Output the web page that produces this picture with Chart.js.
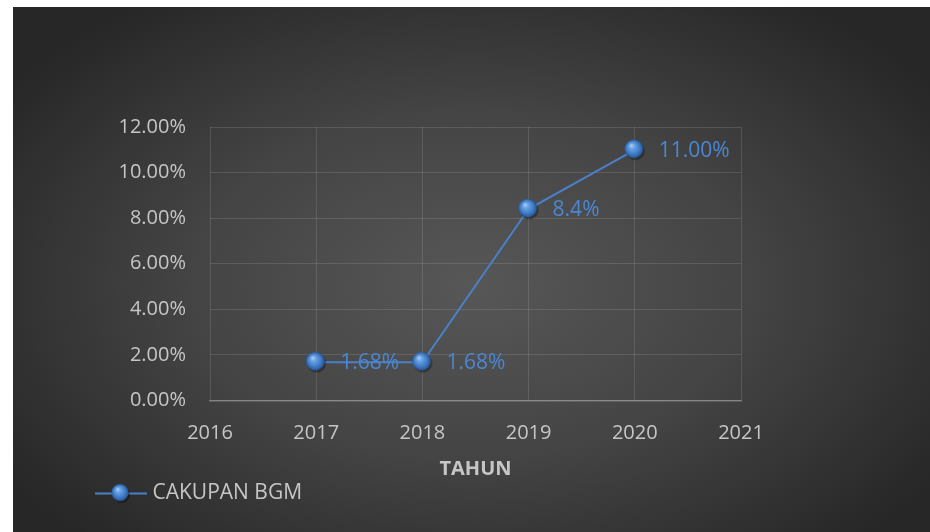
<!DOCTYPE html>
<html>
<head>
<meta charset="utf-8">
<script src="https://cdn.jsdelivr.net/npm/chart.js@4/dist/chart.umd.min.js"></script>
<style>
  html, body { margin: 0; padding: 0; background: #ffffff; }
  canvas { display: block; }
</style>
</head>
<body>
<canvas id="bgmChart" width="930" height="532"></canvas>
<script>
// --- data ---
const tahun = [2017, 2018, 2019, 2020];
const cakupanBgm = [1.68, 1.68, 8.4, 11.0];
const labelNilai = ["1.68%", "1.68%", "8.4%", "11.00%"];
const xMin = 2016;
const xMax = 2021;
const yMax = 12;
const seriesName = "CAKUPAN BGM";
const xTitle = "TAHUN";

const FONT = "'Open Sans', 'Noto Sans', sans-serif";
const textGray = "#c6c6c6";
const blueLine = "#4a80c8";
const blueLabel = "#4b87d2";

// bola biru untuk marker
function drawSphere(ctx, cx, cy, r) {
  ctx.save();
  ctx.beginPath();
  ctx.arc(cx + 1.5, cy + 2, r, 0, Math.PI * 2);
  ctx.fillStyle = "rgba(0,0,0,0.35)";
  ctx.fill();
  const g = ctx.createRadialGradient(cx - r * 0.3, cy - r * 0.4, 0, cx, cy, r);
  g.addColorStop(0, "#b4d4f7");
  g.addColorStop(0.3, "#69a3e4");
  g.addColorStop(0.75, "#3b76c2");
  g.addColorStop(1, "#27548f");
  ctx.beginPath();
  ctx.arc(cx, cy, r, 0, Math.PI * 2);
  ctx.fillStyle = g;
  ctx.fill();
  ctx.restore();
}

const marker = document.createElement("canvas");
marker.width = 26;
marker.height = 26;
drawSphere(marker.getContext("2d"), 12, 12, 9.3);

// marker legenda: garis + bola (dengan ruang kosong di kiri)
const legendMarker = document.createElement("canvas");
legendMarker.width = 88;
legendMarker.height = 26;
(function () {
  const c = legendMarker.getContext("2d");
  c.strokeStyle = blueLine;
  c.lineWidth = 2;
  c.beginPath();
  c.moveTo(36, 13);
  c.lineTo(88, 13);
  c.stroke();
  drawSphere(c, 61, 12, 8.6);
})();

const backgroundPlugin = {
  id: "panelBg",
  beforeDraw(chart) {
    const ctx = chart.ctx;
    ctx.save();
    ctx.fillStyle = "#ffffff";
    ctx.fillRect(0, 0, chart.width, chart.height);
    const px = 13, py = 7, pw = 917, ph = 525;
    ctx.beginPath();
    ctx.rect(px, py, pw, ph);
    ctx.clip();
    ctx.translate(471, 285);
    ctx.scale(1, 0.62);
    const g = ctx.createRadialGradient(0, 0, 0, 0, 0, 560);
    g.addColorStop(0, "#575757");
    g.addColorStop(0.5, "#444444");
    g.addColorStop(1, "#272727");
    ctx.fillStyle = g;
    ctx.fillRect(-600, -700, 1200, 1400);
    ctx.restore();
  },
};

const pointLabelPlugin = {
  id: "pointLabels",
  afterDatasetsDraw(chart) {
    const ctx = chart.ctx;
    const meta = chart.getDatasetMeta(0);
    ctx.save();
    ctx.font = "21px " + FONT;
    ctx.fillStyle = blueLabel;
    ctx.textAlign = "left";
    ctx.textBaseline = "middle";
    meta.data.forEach((pt, i) => {
      ctx.fillText(labelNilai[i], pt.x + 24, pt.y + 1);
    });
    ctx.restore();
  },
};

const gridColor = "rgba(200,200,200,0.17)";

new Chart(document.getElementById("bgmChart"), {
  type: "line",
  data: {
    datasets: [
      {
        label: seriesName,
        data: tahun.map((t, i) => ({ x: t, y: cakupanBgm[i] })),
        borderColor: blueLine,
        borderWidth: 2,
        pointStyle: marker,
        pointRadius: 10,
        pointHoverRadius: 10,
        fill: false,
        tension: 0,
      },
    ],
  },
  options: {
    responsive: false,
    devicePixelRatio: 1,
    animation: false,
    events: [],
    layout: { padding: { left: 60, right: 189, top: 127, bottom: 18 } },
    scales: {
      x: {
        type: "linear",
        min: xMin,
        max: xMax,
        ticks: {
          stepSize: 1,
          color: textGray,
          font: { family: FONT, size: 20 },
          padding: 21,
          callback: (v) => String(v),
        },
        grid: { color: gridColor, drawTicks: false },
        border: { color: "rgba(220,220,220,0.35)", width: 1.5 },
        title: {
          display: true,
          text: xTitle,
          color: textGray,
          font: { family: FONT, size: 20, weight: "bold", lineHeight: 1 },
          padding: 0,
        },
        afterFit(scale) {
          scale.height = 78.5;
        },
      },
      y: {
        min: 0,
        max: yMax,
        ticks: {
          stepSize: 2,
          color: textGray,
          font: { family: FONT, size: 20 },
          padding: 24,
          callback: (v) => v.toFixed(2) + "%",
        },
        grid: { color: gridColor, drawTicks: false },
        border: { display: false },
        afterFit(scale) {
          scale.width = 150;
        },
      },
    },
    plugins: {
      legend: {
        display: true,
        position: "bottom",
        align: "start",
        labels: {
          usePointStyle: true,
          pointStyle: legendMarker,
          pointStyleWidth: 78,
          color: textGray,
          font: { family: FONT, size: 21, lineHeight: 1 },
          padding: 4,
        },
      },
      tooltip: { enabled: false },
    },
  },
  plugins: [backgroundPlugin, pointLabelPlugin],
});
</script>
</body>
</html>
